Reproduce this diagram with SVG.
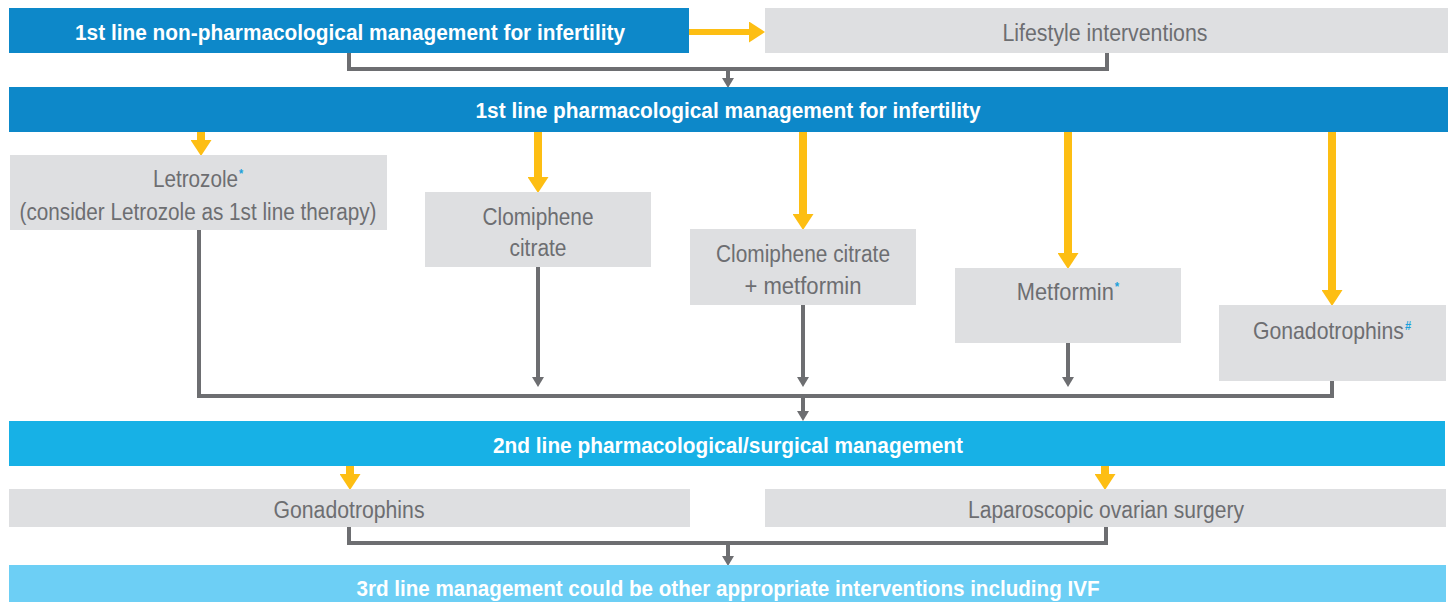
<svg xmlns="http://www.w3.org/2000/svg" width="1452" height="602" viewBox="0 0 1452 602">
<style>
.hd{fill:#0D88C9}
.hm{fill:#17B1E6}
.hl{fill:#6DCFF5}
.bx{fill:#DEDFE1}
.tw{font-family:"Liberation Sans Narrow","Liberation Sans",Arial,sans-serif;font-weight:bold;font-size:22.5px;fill:#FFFFFF;text-anchor:middle}
.tg{font-family:"Liberation Sans Narrow","Liberation Sans",Arial,sans-serif;font-size:23px;fill:#6D6E71;text-anchor:middle}
.sup{fill:#1BA1DB;font-size:12px;font-weight:bold}
.gc{fill:none;stroke:#6D6E71;stroke-width:4}
.ga{fill:none;stroke:#6D6E71;stroke-width:4;marker-end:url(#gh)}
.ya{fill:none;stroke:#FDBE13;stroke-width:8;marker-end:url(#yh)}
</style>
<defs>
<marker id="gh" markerUnits="userSpaceOnUse" markerWidth="10" markerHeight="12" refX="0" refY="6" orient="auto">
<path d="M0,0 L10,6 L0,12 z" fill="#6D6E71"/>
</marker>
<marker id="yh" markerUnits="userSpaceOnUse" markerWidth="16" markerHeight="21" refX="0" refY="10.5" orient="auto">
<path d="M0,0 L16,10.5 L0,21 z" fill="#FDBE13"/>
</marker>
</defs>

<g id="connectors">
<path class="ya" d="M689,32 H749" style="stroke-width:6"/>
<path class="gc" d="M349,53 V69 H1107 V53"/>
<path class="ga" d="M728,69 V78"/>
<path class="ya" d="M201,132 V140"/>
<path class="ya" d="M538,132 V177"/>
<path class="ya" d="M803,132 V214"/>
<path class="ya" d="M1068,132 V253"/>
<path class="ya" d="M1332,132 V290"/>
<path class="gc" d="M199,230 V396 H1332 V381"/>
<path class="ga" d="M538,267 V377"/>
<path class="ga" d="M803,305 V377"/>
<path class="ga" d="M1068,343 V377"/>
<path class="ga" d="M803,396 V411"/>
<path class="ya" d="M350,466 V474"/>
<path class="ya" d="M1105,466 V474"/>
<path class="gc" d="M349,527 V543 H1106 V527"/>
<path class="ga" d="M728,543 V556"/>
</g>

<g id="n1">
<rect class="hd" x="9" y="8" width="680" height="45"/>
<text class="tw" x="350" y="40" textLength="550" lengthAdjust="spacingAndGlyphs">1st line non-pharmacological management for infertility</text>
</g>
<g id="n-lifestyle">
<rect class="bx" x="765" y="8" width="683" height="45"/>
<text class="tg" x="1105" y="41" textLength="205" lengthAdjust="spacingAndGlyphs">Lifestyle interventions</text>
</g>
<g id="n2">
<rect class="hd" x="9" y="87" width="1439" height="45"/>
<text class="tw" x="728" y="118" textLength="505" lengthAdjust="spacingAndGlyphs">1st line pharmacological management for infertility</text>
</g>
<g id="n-letrozole">
<rect class="bx" x="10" y="155" width="377" height="75"/>
<text class="tg" transform="translate(198,187) scale(0.9,1)" x="0" y="0">Letrozole<tspan class="sup" dx="1" dy="-9">*</tspan></text>
<text class="tg" x="198" y="220" textLength="357" lengthAdjust="spacingAndGlyphs">(consider Letrozole as 1st line therapy)</text>
</g>
<g id="n-clomiphene">
<rect class="bx" x="425" y="192" width="226" height="75"/>
<text class="tg" x="538" y="225" textLength="111" lengthAdjust="spacingAndGlyphs">Clomiphene</text>
<text class="tg" x="538" y="256" textLength="57" lengthAdjust="spacingAndGlyphs">citrate</text>
</g>
<g id="n-clomet">
<rect class="bx" x="690" y="229" width="226" height="76"/>
<text class="tg" x="803" y="262" textLength="174" lengthAdjust="spacingAndGlyphs">Clomiphene citrate</text>
<text class="tg" x="803" y="294" textLength="117" lengthAdjust="spacingAndGlyphs">+ metformin</text>
</g>
<g id="n-metformin">
<rect class="bx" x="955" y="268" width="226" height="75"/>
<text class="tg" transform="translate(1068,300) scale(0.95,1)" x="0" y="0">Metformin<tspan class="sup" dx="1" dy="-9">*</tspan></text>
</g>
<g id="n-gonado1">
<rect class="bx" x="1219" y="305" width="227" height="76"/>
<text class="tg" transform="translate(1332,339) scale(0.923,1)" x="0" y="0">Gonadotrophins<tspan class="sup" dx="1" dy="-9">#</tspan></text>
</g>
<g id="n3">
<rect class="hm" x="9" y="421" width="1436" height="45"/>
<text class="tw" x="728" y="453" textLength="470" lengthAdjust="spacingAndGlyphs">2nd line pharmacological/surgical management</text>
</g>
<g id="n-gonado2">
<rect class="bx" x="9" y="489" width="681" height="38"/>
<text class="tg" x="349" y="518" textLength="151" lengthAdjust="spacingAndGlyphs">Gonadotrophins</text>
</g>
<g id="n-lap">
<rect class="bx" x="765" y="489" width="681" height="38"/>
<text class="tg" x="1106" y="518" textLength="276" lengthAdjust="spacingAndGlyphs">Laparoscopic ovarian surgery</text>
</g>
<g id="n4">
<rect class="hl" x="9" y="565" width="1437" height="40"/>
<text class="tw" x="728" y="596" textLength="743" lengthAdjust="spacingAndGlyphs">3rd line management could be other appropriate interventions including IVF</text>
</g>
</svg>
